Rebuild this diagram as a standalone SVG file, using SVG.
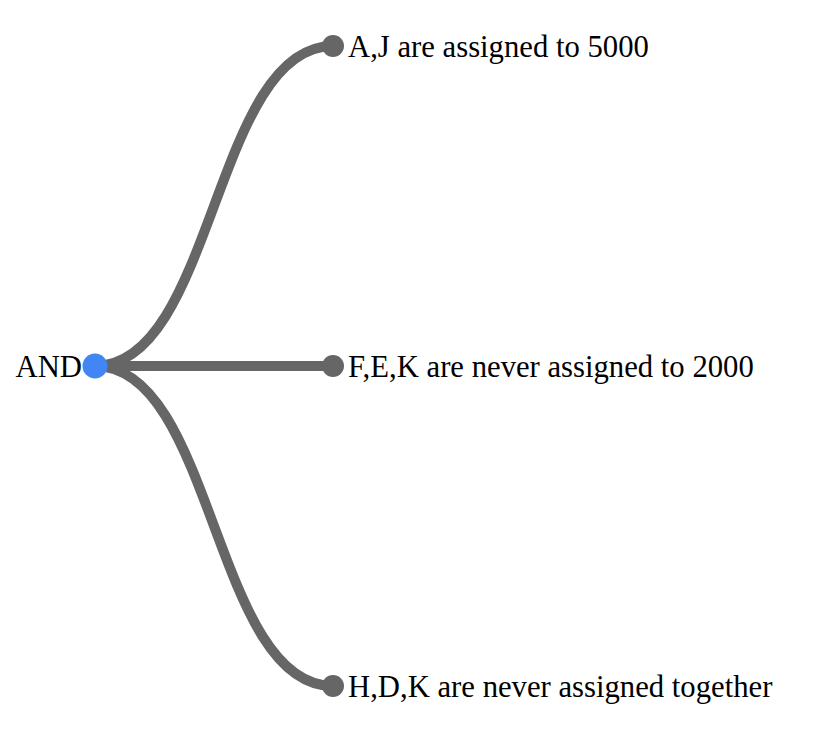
<svg xmlns="http://www.w3.org/2000/svg" width="814" height="746" viewBox="0 0 814 746">
<style>
.link{fill:none;stroke:#666666;stroke-width:10}
.leaf{fill:#666666}
.root{fill:#4285f4}
text{font-family:"Liberation Serif","Times New Roman",serif;font-size:30.7px;fill:#000}
</style>
<rect width="814" height="746" fill="#ffffff"/>
<g id="connectors">
<path class="link" d="M95,366 C214,366 214,46 333,46"/>
<path class="link" d="M95,366 L333,366"/>
<path class="link" d="M95,366 C214,366 214,686 333,686"/>
</g>
<g id="node-and">
<circle class="root" cx="95" cy="366" r="12.5"/>
<text x="82" y="377" text-anchor="end">AND</text>
</g>
<g id="node-aj">
<circle class="leaf" cx="333" cy="46" r="11"/>
<text x="348" y="57">A,J are assigned to 5000</text>
</g>
<g id="node-fek">
<circle class="leaf" cx="333" cy="366" r="11"/>
<text x="348" y="377">F,E,K are never assigned to 2000</text>
</g>
<g id="node-hdk">
<circle class="leaf" cx="333" cy="686" r="11"/>
<text x="348" y="697">H,D,K are never assigned together</text>
</g>
</svg>
